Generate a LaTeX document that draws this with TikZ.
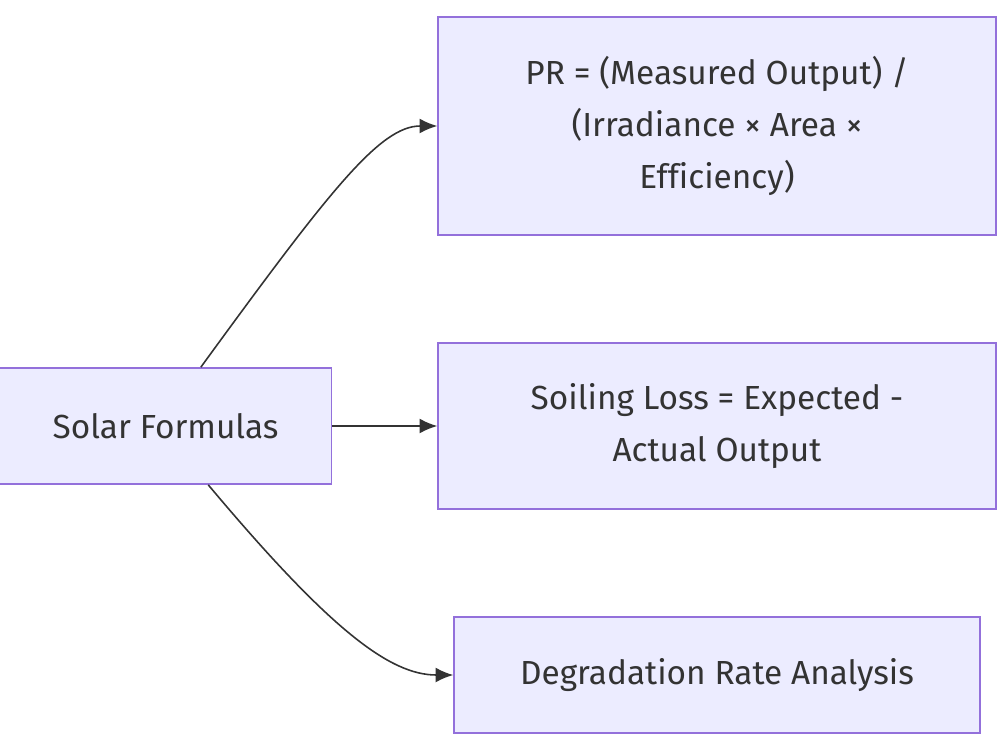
\documentclass[tikz,border=0pt]{standalone}
\usepackage{fontspec}
\setmainfont[Ligatures=NoCommon]{Fira Sans}
\usepackage{tikz}
\usetikzlibrary{arrows.meta}
\usetikzlibrary{calc}
\usetikzlibrary{positioning}
\definecolor{boxfill}{HTML}{ECECFF}
\definecolor{boxline}{HTML}{9370DB}
\definecolor{ink}{HTML}{333333}

\begin{document}
\begin{tikzpicture}[
	x=0.02cm, y=-0.02cm,
  > = {Latex[length=10pt,width=8.5pt]},
  formula/.style = {draw=boxline,fill=boxfill,line width=1pt,text=ink,align=center,
    font=\fontsize{19}{29.5}\selectfont,inner sep=0pt},
  link/.style = {->,draw=ink,line width=0.9pt}
  ]
	\useasboundingbox (0,0) rectangle (1000,750);

	\node[formula,minimum width=6.64cm,minimum height=2.32cm] (solar) at (165.5,426) {Solar Formulas};
	\node[formula,minimum width=11.16cm,minimum height=4.36cm] (pr) at (717,126) {PR = (Measured Output) /\\(Irradiance × Area ×\\Efficiency)};
	\node[formula,minimum width=11.16cm,minimum height=3.32cm] (soil) at (717,426) {Soiling Loss = Expected -\\Actual Output};
	\node[formula,minimum width=10.52cm,minimum height=2.32cm] (degr) at (717,675) {Degradation Rate Analysis};

	\draw[link] (solar.59) .. controls (330,190) and (380,126) .. (pr.west);
	\draw[link] (solar.east) -- (soil.west);
	\draw[link] (solar.-54) .. controls (330,630) and (390,675) .. (degr.west);

\end{tikzpicture}
\end{document}
